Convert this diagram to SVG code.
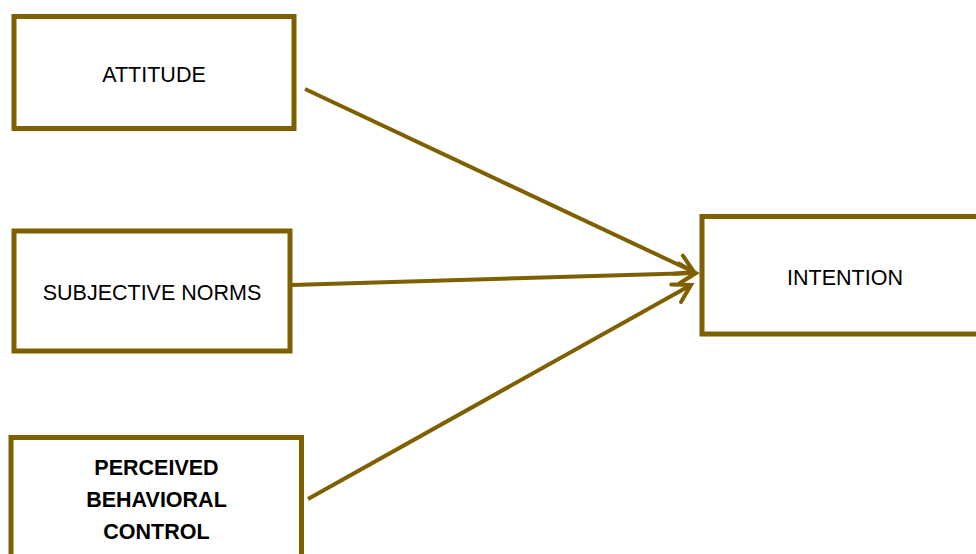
<svg xmlns="http://www.w3.org/2000/svg" width="976" height="554" viewBox="0 0 976 554">
<style>
.box{fill:#ffffff;stroke:#7f6000;stroke-width:5}
.lbl{font-family:"Liberation Sans",Arial,sans-serif;font-size:21.5px;fill:#000;text-anchor:middle}
.b{font-weight:bold}
.con{stroke:#7f6000;stroke-width:4;fill:none}
</style>
<defs>
<marker id="arr" markerUnits="userSpaceOnUse" viewBox="-22 -14 26 28" refX="0" refY="0" markerWidth="26" markerHeight="28" orient="auto" overflow="visible">
<path d="M -17 -10 L 0 0 L -17 10" fill="none" stroke="#7f6000" stroke-width="4" stroke-linecap="round" stroke-linejoin="miter"/>
</marker>
</defs>
<rect width="976" height="554" fill="#ffffff"/>
<g id="attitude">
<rect class="box" x="14" y="16.5" width="280" height="112"/>
<text class="lbl" x="154" y="81.5">ATTITUDE</text>
</g>
<g id="subjective-norms">
<rect class="box" x="14" y="231" width="276" height="120"/>
<text class="lbl" x="152" y="300">SUBJECTIVE NORMS</text>
</g>
<g id="pbc">
<rect class="box" x="11" y="437.5" width="290.5" height="130"/>
<text class="lbl b" x="156.5" y="475">PERCEIVED</text>
<text class="lbl b" x="156.5" y="507">BEHAVIORAL</text>
<text class="lbl b" x="156.5" y="539">CONTROL</text>
</g>
<g id="intention">
<rect class="box" x="702" y="216.5" width="290" height="117.5"/>
<text class="lbl" x="845" y="285">INTENTION</text>
</g>
<g id="connectors">
<line class="con" x1="305" y1="89" x2="694" y2="272" marker-end="url(#arr)"/>
<line class="con" x1="292" y1="285" x2="696" y2="273" marker-end="url(#arr)"/>
<line class="con" x1="308" y1="499" x2="691" y2="285" marker-end="url(#arr)"/>
</g>
</svg>
